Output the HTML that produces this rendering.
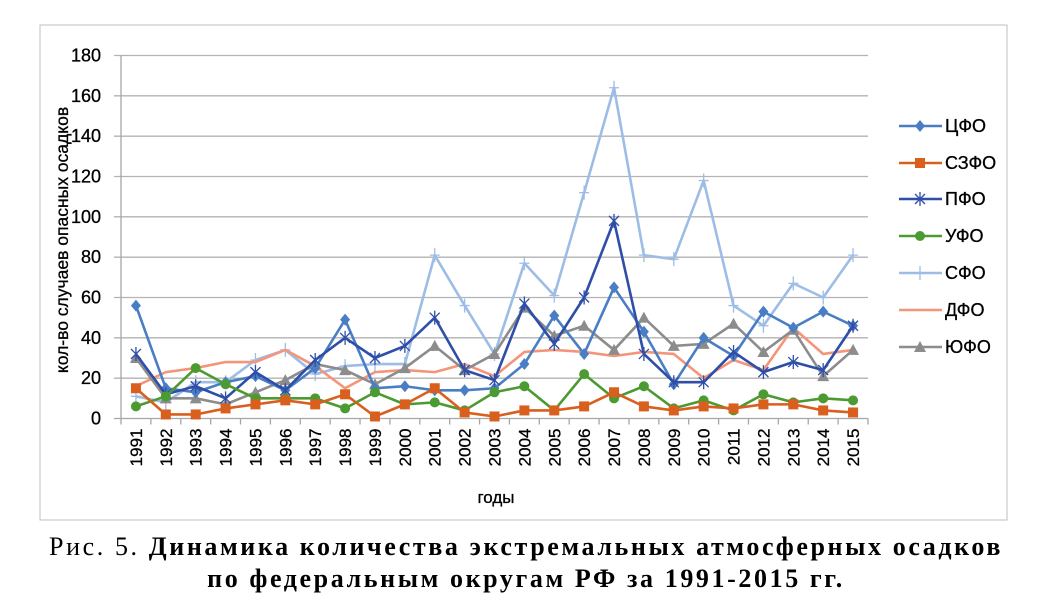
<!DOCTYPE html>
<html><head><meta charset="utf-8"><style>
body{margin:0;background:#fff;width:1052px;height:613px;overflow:hidden;}
.cap{position:absolute;left:0;width:1052px;text-align:center;font-family:"Liberation Serif",serif;font-size:26px;color:#000;white-space:nowrap;}
</style></head><body>
<svg id="chart" width="1052" height="530" style="position:absolute;left:0;top:0" font-family="Liberation Sans, sans-serif">
<rect x="40" y="25" width="967" height="495" fill="#fff" stroke="#bfbfbf" stroke-width="1"/>
<g id="grid"></g><g id="series"></g><g id="legend"></g>
<text transform="translate(68,240) rotate(-90)" text-anchor="middle" font-size="17.5" fill="#000" stroke="#000" stroke-width="0.3">кол-во случаев опасных осадков</text>
<text x="496" y="503" text-anchor="middle" font-size="17" fill="#000" stroke="#000" stroke-width="0.3">годы</text>
</svg>
<div class="cap" style="top:532px;letter-spacing:2.6px">Рис. 5. <b>Динамика количества экстремальных атмосферных осадков</b></div>
<div class="cap" style="top:564px;letter-spacing:2.6px"><b>по федеральным округам РФ за 1991-2015 гг.</b></div>
<script>
const years=[1991,1992,1993,1994,1995,1996,1997,1998,1999,2000,2001,2002,2003,2004,2005,2006,2007,2008,2009,2010,2011,2012,2013,2014,2015];
const yTicks=[0,20,40,60,80,100,120,140,160,180];
const seriesNames=["ЦФО","СЗФО","ПФО","УФО","СФО","ДФО","ЮФО"];
const cfo=[56,15,13,18,21,14,25,49,15,16,14,14,15,27,51,32,65,43,17,40,31,53,45,53,46];
const szfo=[15,2,2,5,7,9,7,12,1,7,15,3,1,4,4,6,13,6,4,6,5,7,7,4,3];
const pfo=[32,12,16,10,23,14,29,40,30,36,50,24,19,57,37,60,98,32,18,18,33,23,28,24,46];
const ufo=[6,11,25,17,10,10,10,5,13,7,8,4,13,16,4,22,10,16,5,9,4,12,8,10,9];
const sfo=[11,8,18,18,29,34,22,26,27,27,81,56,32,77,61,112,164,81,79,118,56,46,67,60,81];
const dfo=[16,23,25,28,28,34,26,15,23,24,23,27,21,33,34,33,31,33,32,20,29,24,45,32,34];
const yufo=[30,10,10,7,13,19,27,24,17,25,36,24,32,55,41,46,34,50,36,37,47,33,44,21,34];
const colors=["#4a7ec4","#d95f1f","#2e4ea8","#4b9b32","#9dbde6","#f4957a","#8c8c8c"];
const markers=["diamond","square","star","circle","plus","none","triangle"];
const allData=[cfo,szfo,pfo,ufo,sfo,dfo,yufo];
const NS="http://www.w3.org/2000/svg";
const X0=121,X1=868,Y0=418.5,YT=55.5,YMAX=180;
const step=(X1-X0)/years.length;
function xs(i){return X0+step*(i+0.5);}
function ys(v){return Y0-(v/YMAX)*(Y0-YT);}
function mk(tag,attrs,parent){const e=document.createElementNS(NS,tag);for(const k in attrs)e.setAttribute(k,attrs[k]);parent.appendChild(e);return e;}
const grid=document.getElementById('grid');
yTicks.forEach(t=>{
  const l=mk('line',{x1:114,x2:X1,y1:ys(t),y2:ys(t),stroke:t===0?'#a6a6a6':'#b3b3b3','stroke-width':1.3},grid);
  
  
  const tx=mk('text',{x:101,y:ys(t)+6,'text-anchor':'end','font-size':18,fill:'#000',stroke:'#000','stroke-width':0.3},grid);
  tx.textContent=t;
  
  
});
const ax=mk('line',{x1:X0,x2:X0,y1:YT,y2:Y0,stroke:'#a6a6a6','stroke-width':1.3},grid);


for(let i=0;i<=years.length;i++){
  const tk=mk('line',{x1:X0+step*i,x2:X0+step*i,y1:Y0,y2:Y0+6,stroke:'#a6a6a6','stroke-width':1.3},grid);
  
  
}
years.forEach((y,i)=>{
  const tx=mk('text',{transform:`translate(${xs(i)+6},${Y0+10}) rotate(-90)`,'text-anchor':'end','font-size':17,fill:'#000',stroke:'#000','stroke-width':0.3},grid);
  tx.textContent=y;
  
  
});
function marker(type,x,y,c,g){
  let e=null;
  if(type==='diamond')e=mk('polygon',{points:`${x},${y-6} ${x+5},${y} ${x},${y+6} ${x-5},${y}`,fill:c},g);
  else if(type==='square')e=mk('rect',{x:x-5,y:y-5,width:10,height:10,fill:c},g);
  else if(type==='circle')e=mk('circle',{cx:x,cy:y,r:5,fill:c},g);
  else if(type==='triangle')e=mk('polygon',{points:`${x},${y-6} ${x+6},${y+5} ${x-6},${y+5}`,fill:c},g);
  else if(type==='star')e=mk('path',{d:`M${x-5},${y-5}L${x+5},${y+5}M${x-5},${y+5}L${x+5},${y-5}M${x},${y-7}L${x},${y+7}`,stroke:c,'stroke-width':1.3,fill:'none'},g);
  else if(type==='plus')e=mk('path',{d:`M${x-5},${y}L${x+5},${y}M${x},${y-7}L${x},${y+7}`,stroke:c,'stroke-width':1.3,fill:'none'},g);
  if(e){}
}
const sg=document.getElementById('series');
const order=[4,5,6,0,2,3,1];
order.forEach(s=>{
  const g=mk('g',{},sg);
  
  
  const d=allData[s].map((v,i)=>(i?'L':'M')+xs(i)+','+ys(v)).join('');
  const p=mk('path',{d:d,fill:'none',stroke:colors[s],'stroke-width':2.6,'stroke-linejoin':'round'},g);
  
  
  allData[s].forEach((v,i)=>marker(markers[s],xs(i),ys(v),colors[s],g));
});
const lg=document.getElementById('legend');
const rows=[126,163,199,236,273,310,347];
seriesNames.forEach((n,s)=>{
  const g=mk('g',{},lg);
  
  
  mk('line',{x1:899,x2:942,y1:rows[s],y2:rows[s],stroke:colors[s],'stroke-width':2.6},g);
  marker(markers[s],920,rows[s],colors[s],g);
  const t=mk('text',{x:945,y:rows[s]+6,'font-size':18,fill:'#000',stroke:'#000','stroke-width':0.3},g);
  t.textContent=n;
});
</script>
</body></html>
